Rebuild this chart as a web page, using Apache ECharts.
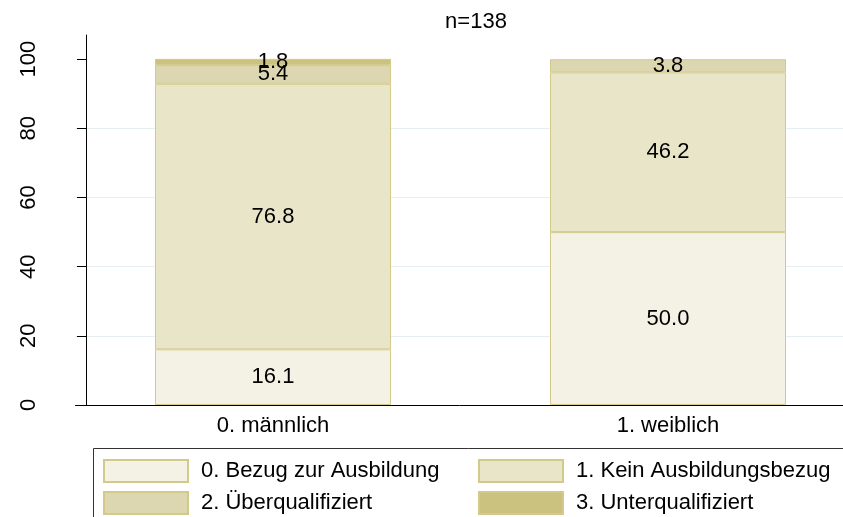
<!DOCTYPE html>
<html>
<head>
<meta charset="utf-8">
<style>
  html, body { margin: 0; padding: 0; background: #fff; }
  #chart { width: 843px; height: 517px; }
</style>
<script src="https://cdn.jsdelivr.net/npm/echarts@6/dist/echarts.min.js"></script>
</head>
<body>
<div id="chart"></div>
<script>
// Gender groups on the x axis
const categories = ['0. männlich', '1. weiblich'];

// Share (%) of each job-match type within each gender group
const seriesNames = [
  '0. Bezug zur Ausbildung',
  '1. Kein Ausbildungsbezug',
  '2. Überqualifiziert',
  '3. Unterqualifiziert'
];
const bezugZurAusbildung = [16.1, 50.0];
const keinAusbildungsbezug = [76.8, 46.2];
const ueberqualifiziert = [5.4, 3.8];
const unterqualifiziert = [1.8, null];

const yTicks = [0, 20, 40, 60, 80, 100];
const titleText = 'n=138';

const seriesValues = [bezugZurAusbildung, keinAusbildungsbezug, ueberqualifiziert, unterqualifiziert];
const fills = ['#f4f2e5', '#e9e5c8', '#ddd7b1', '#cbc27f'];
const edge = '#d3c98b';
const font = 'Liberation Sans, Arial, sans-serif';
const fs = 22;

const chart = echarts.init(document.getElementById('chart'));

const series = seriesNames.map((name, s) => ({
  name,
  type: 'bar',
  stack: 'total',
  barWidth: 236,
  data: seriesValues[s],
  itemStyle: { color: fills[s], borderColor: edge, borderWidth: 1 },
  label: {
    show: true,
    position: 'inside',
    color: '#000',
    fontFamily: font,
    fontSize: fs,
    formatter: p => (p.value == null ? '' : Number(p.value).toFixed(1))
  },
  emphasis: { disabled: true }
}));

const legendCommon = {
  orient: 'vertical',
  top: 459,
  padding: 0,
  itemWidth: 84,
  itemHeight: 22,
  itemGap: 8,
  icon: 'rect',
  selectedMode: false,
  textStyle: { fontFamily: font, fontSize: fs, lineHeight: 22, color: '#000', padding: [0, 0, 0, 8] }
};

chart.setOption({
  animation: false,
  backgroundColor: '#fff',
  title: {
    text: titleText,
    left: 471,
    top: 6,
    textAlign: 'center',
    textStyle: { fontFamily: font, fontSize: fs, fontWeight: 'normal', color: '#000' }
  },
  // plot band runs past the right edge so the two groups sit off-centre
  grid: { left: 75.5, width: 790, top: 35, bottom: 112, outerBoundsMode: 'none' },
  xAxis: {
    type: 'category',
    data: categories,
    axisLine: { show: true, lineStyle: { color: '#000', width: 1 } },
    axisTick: { show: false },
    splitLine: { show: false },
    axisLabel: {
      color: '#000',
      fontFamily: font,
      fontSize: fs,
      margin: 10
    }
  },
  yAxis: {
    type: 'value',
    min: 0,
    max: 107,
    offset: -10.5,
    axisLine: { show: true, lineStyle: { color: '#000', width: 1 } },
    axisTick: { show: true, customValues: yTicks, length: 9, lineStyle: { color: '#000' } },
    splitLine: { show: true, showMaxLine: false, lineStyle: { color: '#e6eff1', width: 1 } },
    axisLabel: {
      customValues: yTicks,
      rotate: 90,
      color: '#000',
      fontFamily: font,
      fontSize: fs,
      margin: 46
    }
  },
  legend: [
    Object.assign({ left: 103, data: [seriesNames[0], seriesNames[2]] }, legendCommon),
    Object.assign({ left: 478, data: [seriesNames[1], seriesNames[3]] }, legendCommon)
  ],
  graphic: [{
    type: 'rect',
    shape: { x: 93.5, y: 448.5, width: 800, height: 100 },
    style: { fill: 'none', stroke: '#333', lineWidth: 1 },
    silent: true
  }],
  series
});
</script>
</body>
</html>
